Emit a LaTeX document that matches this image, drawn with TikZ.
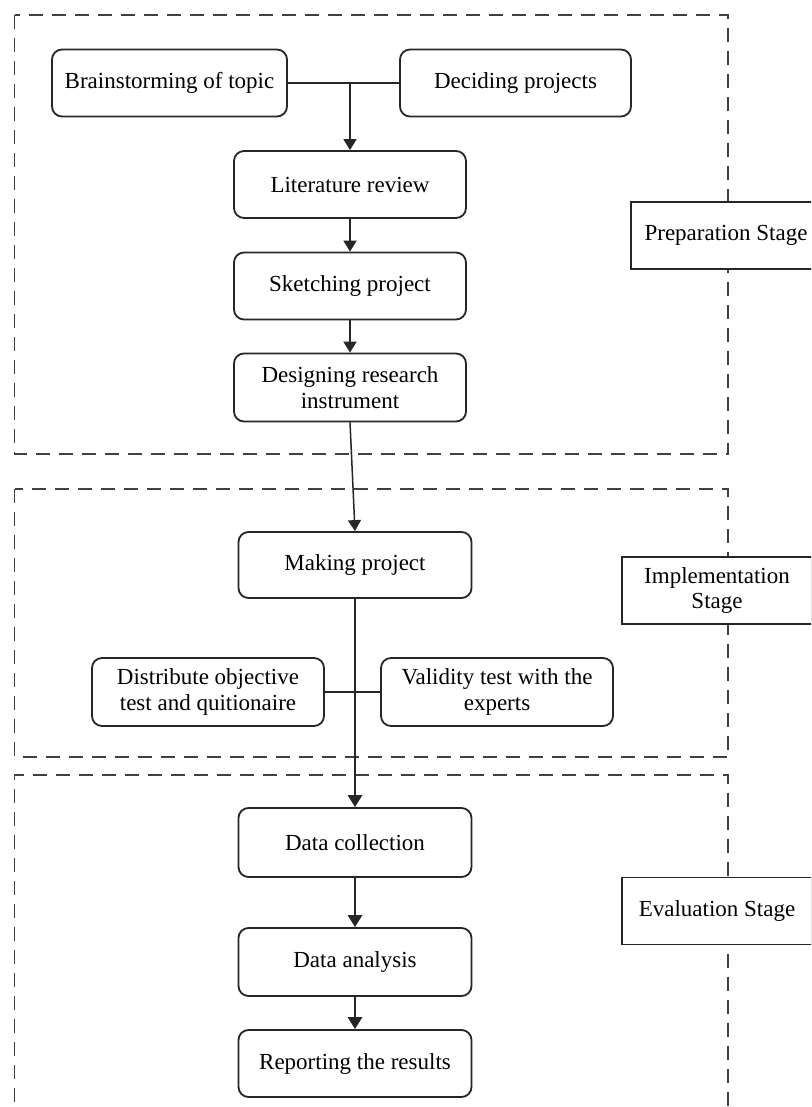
\documentclass[tikz,border=0pt]{standalone}
\usepackage{fontspec}
\setmainfont{Liberation Serif}
\usetikzlibrary{arrows.meta}
\begin{document}
\begin{tikzpicture}[x=1pt,y=-1pt,
  proc/.style={draw=black!85, line width=1.8pt, rounded corners=10pt, minimum width=232pt, minimum height=67pt, align=center, font=\fontsize{23}{26}\selectfont, inner sep=0pt},
  stagebox/.style={draw=black!85, line width=1.8pt, fill=white, minimum width=190pt, minimum height=67pt, align=center, font=\fontsize{23}{25}\selectfont, inner sep=0pt},
  zone/.style={draw=black!75, line width=1.7pt, dash pattern=on 14pt off 9pt},
  flow/.style={draw=black!85, line width=1.8pt, -{Triangle[length=11pt,width=13pt]}},
  thickflow/.style={draw=black!85, line width=2.8pt, -{Triangle[length=12pt,width=14pt]}},
  link/.style={draw=black!85, line width=1.6pt}]
\useasboundingbox (0,0) rectangle (811,1107);
\clip (0,0) rectangle (811,1107);
\fill[white] (0,0) rectangle (811,1107);

% stage zones
\draw[zone] (14.5,15) rectangle (728,454);
\draw[zone] (14.5,489) rectangle (728,757);
\draw[zone] (14.5,1125) -- (14.5,775) -- (728,775) -- (728,1125);

% preparation
\node[proc, minimum width=235pt] (brain) at (169.5,83) {Brainstorming of topic};
\node[proc, minimum width=231pt] (decide) at (515.5,83) {Deciding projects};
\node[proc] (lit) at (350,184.5) {Literature review};
\node[proc] (sketch) at (350,286) {Sketching project};
\node[proc, minimum height=68pt] (design) at (350,387.5) {Designing research\\instrument};

% implementation
\node[proc, minimum width=233pt, minimum height=66pt] (make) at (355,565) {Making project};
\node[proc, minimum height=68pt] (dist) at (208,692) {Distribute objective\\test and quitionaire};
\node[proc, minimum height=68pt] (valid) at (497,692) {Validity test with the\\experts};

% evaluation
\node[proc, minimum width=233pt, minimum height=69pt] (dcol) at (355,842.5) {Data collection};
\node[proc, minimum width=233pt, minimum height=68pt] (dana) at (355,962) {Data analysis};
\node[proc, minimum width=233pt, minimum height=67pt] (rep) at (355,1063.5) {Reporting the results};

% stage labels
\node[stagebox] (prep) at (726,235.5) {Preparation Stage};
\node[stagebox] (impl) at (717,590.5) {Implementation\\Stage};
\node[stagebox] (eval) at (717,911) {Evaluation Stage};

% connectors
\draw[link] (brain.east) -- (decide.west);
\coordinate (j1) at (lit.north |- brain.east);
\draw[flow] (j1) -- (lit.north);
\draw[flow] (lit) -- (sketch);
\draw[flow] (sketch) -- (design);
\draw[flow, line width=1.5pt] (design.south) -- (make.north);
\draw[link] (dist.east) -- (valid.west);
\draw[thickflow] (make.south) -- (dcol.north);
\draw[thickflow] (dcol) -- (dana);
\draw[thickflow] (dana) -- (rep);
\end{tikzpicture}
\end{document}
